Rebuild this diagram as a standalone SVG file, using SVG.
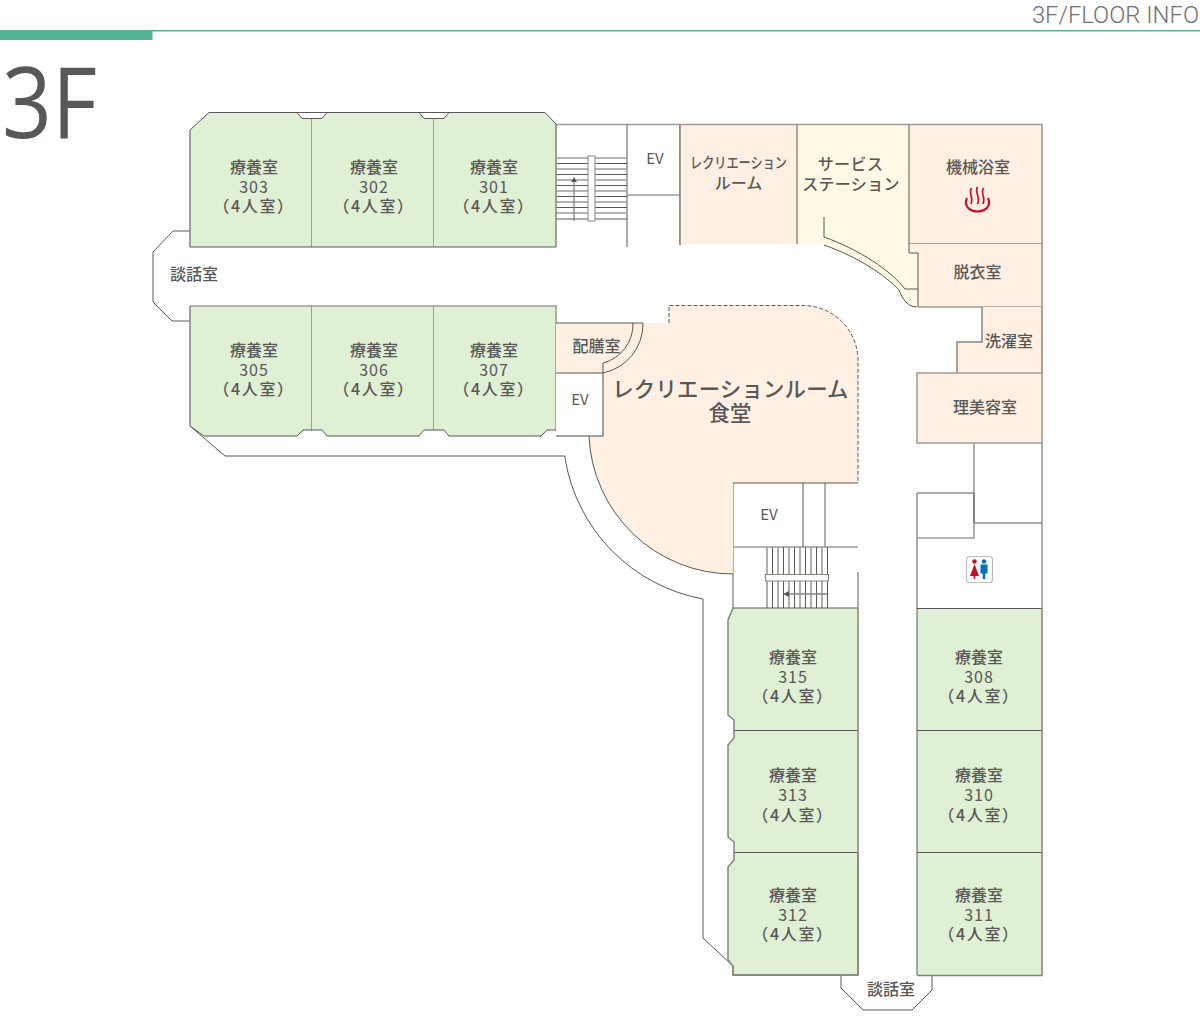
<svg xmlns="http://www.w3.org/2000/svg" width="1200" height="1020" viewBox="0 0 1200 1020">
<style>
text{font-family:"Noto Sans CJK JP","Noto Sans",sans-serif;fill:#595757;font-size:16px;text-anchor:middle;font-weight:500}
.g{fill:#e0f0d4}.p{fill:#fff0e3}.c{fill:#fff9e6}.w{fill:#fff}
.d{fill:none;stroke:#595757;stroke-width:1}
.m{fill:none;stroke:#9c9c98;stroke-width:1.6}
.rm{fill:none;stroke:#85857f;stroke-width:1.5}
.num{letter-spacing:1px;font-weight:400}
.cap{letter-spacing:1.700px}
</style>
<g id="header">
<rect x="0" y="30" width="152.500" height="10" fill="#52b396"/>
<rect x="152" y="30" width="1048" height="1.500" fill="#52b396"/>
<text x="1199" y="23" style="font-family:Roboto,sans-serif;font-size:23.800px;font-weight:300;text-anchor:end;fill:#6f6f6f">3F/FLOOR INFO</text>
<text x="2" y="138" textLength="95" lengthAdjust="spacingAndGlyphs" style="font-family:'Open Sans',sans-serif;font-size:98px;font-weight:400;text-anchor:start">3F</text>
</g>
<g id="walls">
<path class="d" d="M190 231H173L153 252V302L172 321H190"/>
<path class="m" d="M556 124.500H680"/>
<path class="d" d="M627 125V247"/>
<path class="m" d="M627 195H680M680 125V245"/>
<path class="d" d="M190 426L225 456H565V458A171 171 0 0 0 703 599V938L733 966"/>
<path class="d" d="M733 975H841V988L863 1010H912L932 990V975"/>
<path class="m" d="M733 547H858M825 483V547M733 483V608M858 572V608"/>
<path class="d" d="M803 483V547"/>
<path class="m" d="M1042 443V608M974 443V523"/>
<path class="d" d="M974 523H1042M917 493H974V523M917 493V608"/>
<path class="m" d="M917 538H974V523"/>
</g>
<g id="connectors"></g>
<g id="stairs-north">
<path class="m" d="M556 158H627M556 169H627M556 180H627M556 191H627M556 202H627M556 213H627"/>
<path class="d" d="M556 163.500H627M556 174.500H627M556 185.500H627M556 196.500H627M556 207.500H627M556 219H627"/>
<rect x="588" y="156" width="7" height="65" fill="#fff" stroke="#85857f"/>
<path d="M574 221V180" stroke="#85857f" stroke-width="1.300" fill="none"/>
<path d="M574 177L577 182H571Z" fill="#595757"/>
</g>
<g id="stairs-south">
<path class="m" d="M767 547V608M778 547V608M789 547V608M800 547V608M811 547V608M822 547V608"/>
<path class="d" d="M772.500 547V608M783.500 547V608M794.500 547V608M805.500 547V608M816.500 547V608M827.500 547V608"/>
<rect x="765.500" y="574.500" width="63" height="6.500" fill="#fff" stroke="#85857f"/>
<path d="M827 594H788" stroke="#85857f" stroke-width="1.300" fill="none"/>
<path d="M783 594L789 591V597Z" fill="#595757"/>
</g>
<g id="room-303"><path class="g" d="M190 130L209 112.500H297L302 118.500H312V247H190Z"/><path class="rm" d="M312 118V247M190 130V247"/><path class="d" d="M312 247H190M190 130L209 112.500H312M297 112.500L302 118.500H312"/><text x="254" y="173">療養室</text><text x="254" y="193" class="num">303</text><text x="254" y="212" class="cap">（4人室）</text></g>
<g id="room-302"><path class="g" d="M312 118.500H322L327 112.500H419L424 118.500H434V247H312Z"/><path class="d" d="M312 118.500H322L327 112.500M312 112.500H434M419 112.500L424 118.500H434M312 247H434"/><path class="rm" d="M434 118V247"/><text x="374" y="173">療養室</text><text x="374" y="193" class="num">302</text><text x="374" y="212" class="cap">（4人室）</text></g>
<g id="room-301"><path class="g" d="M434 118.500H444L449 112.500H545L556 124V247H434Z"/><path class="d" d="M434 118.500H444L449 112.500M434 112.500H545L556 124M434 247H556"/><path class="rm" d="M556 124V247"/><text x="494" y="173">療養室</text><text x="494" y="193" class="num">301</text><text x="494" y="212" class="cap">（4人室）</text></g>
<g id="room-305"><path class="g" d="M190 306H312V430H303L297 436H204L190 426Z"/><path class="m" d="M190 306H312"/><path class="rm" d="M190 306V426M312 306V430"/><path class="d" d="M312 430H303L297 436H204L190 426"/><text x="254" y="356">療養室</text><text x="254" y="376" class="num">305</text><text x="254" y="395" class="cap">（4人室）</text></g>
<g id="room-306"><path class="g" d="M312 306H434V430H424L419 436H327L322 430H312Z"/><path class="m" d="M312 306H434"/><path class="rm" d="M434 306V430"/><path class="d" d="M312 430H322L327 436H419L424 430H434"/><text x="374" y="356">療養室</text><text x="374" y="376" class="num">306</text><text x="374" y="395" class="cap">（4人室）</text></g>
<g id="room-307"><path class="g" d="M434 306H556V430H547L541 436H449L444 430H434Z"/><path class="m" d="M434 306H556V430"/><path class="d" d="M434 430H444L449 436H541L547 430H556"/><text x="494" y="356">療養室</text><text x="494" y="376" class="num">307</text><text x="494" y="395" class="cap">（4人室）</text></g>
<g id="talk-west"><text x="194" y="280">談話室</text></g>
<g id="ev-north"><text x="655" y="164" style="font-size:15px;font-weight:400">EV</text></g>
<g id="recreation-room">
<path class="p" d="M680 125H797V244H680Z"/>
<path class="m" d="M680 124.500H797"/>
<path class="rm" d="M680 125V245"/>
<text x="738.500" y="168" textLength="97" lengthAdjust="spacingAndGlyphs" style="font-size:15px">レクリエーション</text>
<text x="738.500" y="189">ルーム</text>
</g>
<g id="service-station">
<path class="c" d="M797 125H909V253H918V307H917C908 307 903 300 899 290C885 275 858 257 824 245V244H797Z"/>
<path class="m" d="M797 124.500H909"/>
<path class="d" d="M797 125V244M824 217V237C860 250 890 270 905 289H918M824 245C858 257 885 275 899 290C903 300 908 307 917 307"/>
<text x="850.500" y="170" style="letter-spacing:.4px">サービス</text>
<text x="851" y="190" style="letter-spacing:.3px">ステーション</text>
</g>
<g id="bath-room">
<path class="p" d="M909 125H1042V244H909Z"/>
<path class="m" d="M909 124.500H1042V244"/>
<path class="d" d="M909 125V244H1042"/>
<text x="978" y="173">機械浴室</text>
<g fill="none" stroke="#c8102e">
<path stroke-width="2.200" d="M967 198C963 207 971 211.500 977.500 211.500C984 211.500 992 207 988 198"/>
<path stroke-width="1.700" d="M971.500 188C968 193 974 197 971 204M977.500 187C974 192 981 197 977.500 204M983.500 188C980 193 986 197 983 204"/>
</g>
</g>
<g id="changing-room">
<path class="p" d="M918 253H909V244H1042V307H918Z"/>
<path class="d" d="M909 244V253H918V307"/>
<path class="m" d="M918 307H1042V244"/>
<text x="977.500" y="278">脱衣室</text>
</g>
<g id="laundry">
<path class="p" d="M982 307H1042V373H957V342H982Z"/>
<path class="rm" d="M982 307V342H957V373M1042 307V373"/>
<text x="1009" y="347">洗濯室</text>
</g>
<g id="barber">
<path class="p" d="M917 373H1042V443H917Z"/>
<rect x="917" y="373" width="125" height="70" fill="none" stroke="#9c9c98" stroke-width="1.500"/>
<text x="985" y="413">理美容室</text>
</g>
<g id="dining-room">
<path class="p" d="M556 323H669V305.500H803A55 55 0 0 1 858 360V483H733V574A144 144 0 0 1 589 436H556Z"/>
<path class="d" d="M556 323H643M603 363A40 40 0 0 0 633 323M603 373A50 50 0 0 0 643 323"/>
<path class="d" stroke-dasharray="4 2" d="M669 323V305.500H803A55 55 0 0 1 858 360V483"/>
<path class="d" d="M858 483H733M733 574A144 144 0 0 1 589 436"/>
<text x="730.500" y="397" style="font-size:21.400px;letter-spacing:.2px">レクリエーションルーム</text>
<text x="730" y="421" style="font-size:21.400px">食堂</text>
<text x="596.500" y="352">配膳室</text>
</g>
<g id="ev-west">
<path class="w" d="M556 373H603V436H556Z"/>
<path class="d" d="M556 373H603V363"/>
<path class="rm" d="M603 373V436H556"/>
<text x="580" y="405" style="font-size:15px;font-weight:400">EV</text>
</g>
<g id="ev-south"><text x="769" y="520" style="font-size:15px;font-weight:400">EV</text></g>
<g id="toilet">
<rect x="966.500" y="556.500" width="26" height="26" rx="3" fill="#fff" stroke="#bdbdbd" stroke-width="1.200"/>
<circle cx="974.500" cy="561.500" r="2.200" fill="#c8102e"/>
<path d="M974.500 564L979 576H975.300V579H973.700V576H970Z" fill="#c8102e"/>
<circle cx="984" cy="561.500" r="2.200" fill="#0071bc"/>
<path d="M980.500 564.500H987.500V573.500H985.200V579H982.800V573.500H980.500Z" fill="#0071bc"/>
</g>
<g id="room-315"><path class="g" d="M733 608H858V730H734V720L728 715V620Z"/><path class="d" d="M733 608H858"/><path class="rm" d="M858 608V730M733 608L728 620V715L734 720V730"/><text x="793" y="663">療養室</text><text x="793" y="683" class="num">315</text><text x="793" y="702" class="cap">（4人室）</text></g>
<g id="room-313"><path class="g" d="M734 730H858V852H734V842L728 837V745L734 738Z"/><path class="d" d="M734 730.500H858"/><path class="rm" d="M858 730V852M734 730V738L728 745V837L734 842V852"/><text x="793" y="781">療養室</text><text x="793" y="801" class="num">313</text><text x="793" y="821" class="cap">（4人室）</text></g>
<g id="room-312"><path class="g" d="M734 852H858V975H733V966L728 960V867L734 860Z"/><path class="d" d="M734 852.500H858V975H733V966"/><path class="rm" d="M734 852V860L728 867V960L733 966V975H858V852"/><text x="793" y="901">療養室</text><text x="793" y="921" class="num">312</text><text x="793" y="940" class="cap">（4人室）</text></g>
<g id="room-308"><path class="g" d="M917 608H1042V730H917Z"/><path class="d" d="M917 608.500H1042M917 608V730"/><path class="rm" d="M1042 608V730"/><text x="979" y="663">療養室</text><text x="979" y="683" class="num">308</text><text x="979" y="702" class="cap">（4人室）</text></g>
<g id="room-310"><path class="g" d="M917 730H1042V852H917Z"/><path class="d" d="M917 730.500H1042M917 730V852"/><path class="rm" d="M1042 730V852"/><text x="979" y="781">療養室</text><text x="979" y="801" class="num">310</text><text x="979" y="821" class="cap">（4人室）</text></g>
<g id="room-311"><path class="g" d="M917 852H1042V975H917Z"/><path class="d" d="M917 852.500H1042M917 852V975"/><path class="rm" d="M917 975.500H1042V852"/><text x="979" y="901">療養室</text><text x="979" y="921" class="num">311</text><text x="979" y="940" class="cap">（4人室）</text></g>
<g id="talk-south"><text x="891" y="995">談話室</text></g>
</svg>
